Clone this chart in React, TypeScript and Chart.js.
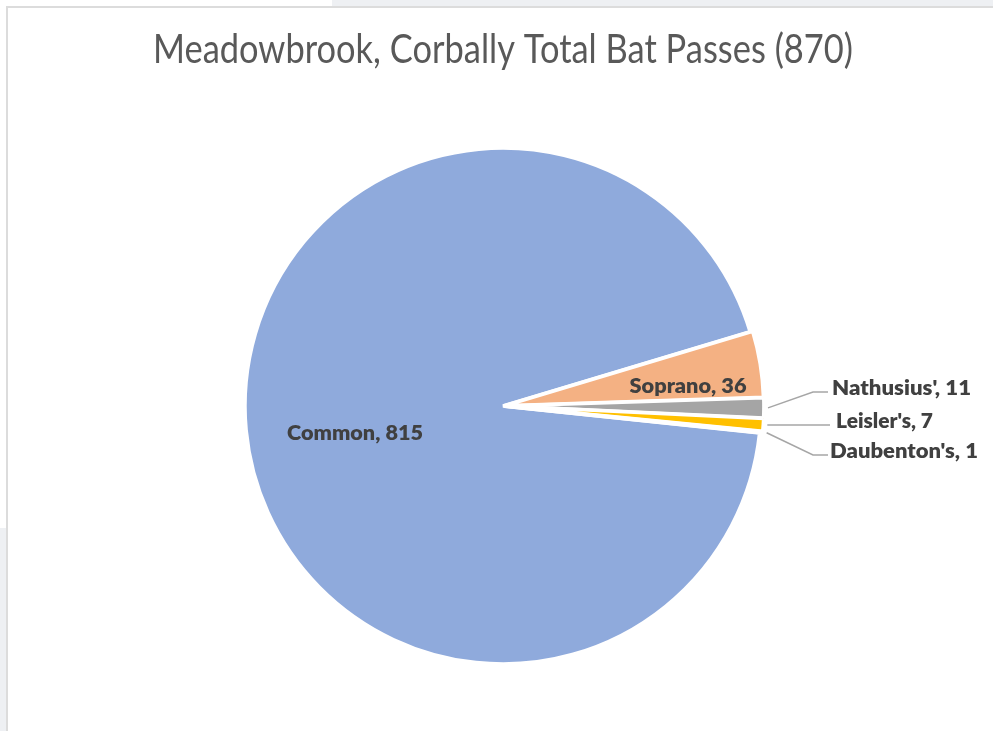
import React, { useEffect, useRef } from "react";
import { Chart, registerables } from "chart.js";

Chart.register(...registerables);

const TITLE = "Meadowbrook, Corbally Total Bat Passes (870)";
const species = ["Common", "Soprano", "Nathusius'", "Leisler's", "Daubenton's"];
const passes = [815, 36, 11, 7, 1];
const sliceColors = ["#8FAADC", "#F4B183", "#A5A5A5", "#FFC000", "#5B9BD5"];
const sliceOffsets = [0, 6, 6, 6, 6];

// label layout relative to pie centre (inside labels: text baseline centre; outside: leader line end y)
const labelLayout = [
  { inside: true, dx: -148, dy: 34, w: 136 },
  { inside: true, dx: 185, dy: -13, w: 117 },
  { inside: false, endY: -14, endX: 325, textX: 329, w: 139 },
  { inside: false, endY: 19, endX: 327, textX: 333, w: 97 },
  { inside: false, endY: 49, endX: 325, textX: 327, w: 148 },
];

const labelPlugin = {
  id: "batLabels",
  afterDraw(chart: any) {
    const ctx: CanvasRenderingContext2D = chart.ctx;
    const meta = chart.getDatasetMeta(0);
    const arcs = meta.data;
    const cx = arcs[0].x;
    const cy = arcs[0].y;

    // title
    ctx.save();
    ctx.fillStyle = "#595959";
    ctx.font = "40px Lato";
    ctx.textAlign = "center";
    ctx.textBaseline = "alphabetic";
    const tw = ctx.measureText(TITLE).width;
    ctx.translate(cx, 63);
    ctx.scale(700 / tw, 1);
    ctx.fillText(TITLE, 0, 0);
    ctx.restore();

    // data labels
    ctx.save();
    ctx.font = "800 21px Lato";
    arcs.forEach((arc: any, i: number) => {
      const text = `${species[i]}, ${passes[i]}`;
      const lay: any = labelLayout[i];
      const sx = lay.w / ctx.measureText(text).width;
      ctx.fillStyle = "#404040";
      if (lay.inside) {
        ctx.save();
        ctx.textAlign = "center";
        ctx.textBaseline = "alphabetic";
        ctx.translate(cx + lay.dx, cy + lay.dy);
        ctx.scale(sx, 1);
        ctx.fillText(text, 0, 0);
        ctx.restore();
      } else {
        const mid = (arc.startAngle + arc.endAngle) / 2;
        const r = arc.outerRadius + sliceOffsets[i] + 1;
        const x0 = cx + Math.cos(mid) * r;
        const y0 = cy + Math.sin(mid) * r;
        const ey = cy + lay.endY;
        ctx.beginPath();
        ctx.strokeStyle = "#A6A6A6";
        ctx.lineWidth = 1.5;
        ctx.moveTo(x0, y0);
        ctx.lineTo(cx + 310, ey);
        ctx.lineTo(cx + lay.endX, ey);
        ctx.stroke();
        ctx.save();
        ctx.textAlign = "left";
        ctx.textBaseline = "alphabetic";
        ctx.translate(cx + lay.textX, ey + 3);
        ctx.scale(sx, 1);
        ctx.fillText(text, 0, 0);
        ctx.restore();
      }
    });
    ctx.restore();
  },
};

export default function App() {
  const canvasRef = useRef<HTMLCanvasElement>(null);

  useEffect(() => {
    document.body.style.margin = "0";
    const chart = new Chart(canvasRef.current as HTMLCanvasElement, {
      type: "pie",
      data: {
        labels: species,
        datasets: [
          {
            data: passes,
            backgroundColor: sliceColors,
            borderColor: "#FFFFFF",
            borderWidth: 3.5,
            offset: sliceOffsets,
            hoverOffset: 0,
            clip: false as any,
          } as any,
        ],
      },
      options: {
        responsive: false,
        animation: false,
        rotation: 96,
        radius: 258,
        layout: { padding: { left: 233, right: 220, top: 136, bottom: 55 } },
        plugins: {
          legend: { display: false },
          tooltip: { enabled: false },
          title: { display: false },
        },
      } as any,
      plugins: [labelPlugin],
    });
    return () => chart.destroy();
  }, []);

  return (
    <div style={{ position: "relative", width: 993, height: 731, background: "#ffffff", overflow: "hidden" }}>
      <div style={{ position: "absolute", left: 332, top: 0, right: 0, height: 6, background: "#eef0f3" }} />
      <div style={{ position: "absolute", left: 0, top: 528, width: 6, bottom: 0, background: "#eef0f3" }} />
      <div style={{ position: "absolute", left: 6, top: 6, right: 0, height: 2, background: "#dcdcdc" }} />
      <div style={{ position: "absolute", left: 6, top: 6, width: 2, bottom: 0, background: "#dcdcdc" }} />
      <canvas ref={canvasRef} width={993} height={731} style={{ position: "absolute", left: 0, top: 0 }} />
    </div>
  );
}
